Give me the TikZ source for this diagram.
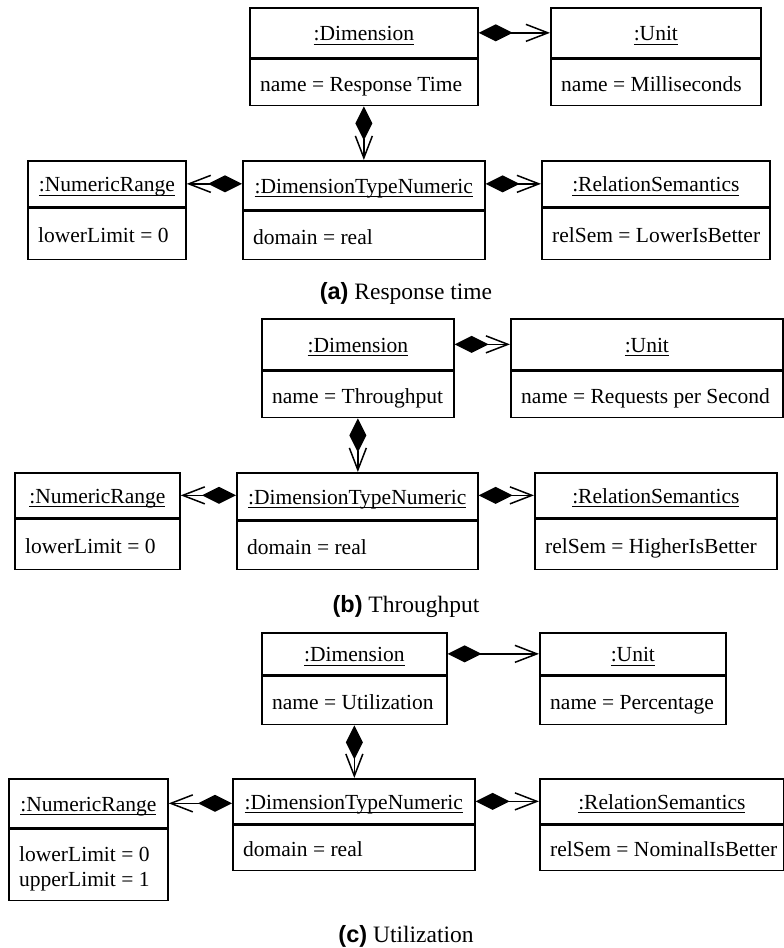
\documentclass[tikz,border=0pt]{standalone}
\usepackage{fontspec}
\setmainfont{Liberation Serif}
\newfontfamily\capsans{Liberation Sans}
\usetikzlibrary{arrows.meta}

\newcommand\objfont{\fontsize{21.5}{25}\selectfont}
\newcommand\capfont{\fontsize{23.5}{27}\selectfont}
% underlined object name: rule 3pt below the baseline
\newsavebox\ulbox
\newcommand\objname[1]{\sbox\ulbox{#1}\rlap{\vrule height -3pt depth 3.9pt width \wd\ulbox}\usebox\ulbox}

\tikzset{
  objhead/.style={draw, line width=1.7pt, inner sep=0pt, text height=19pt, text depth=3pt, font=\objfont},
  objbody/.style={draw, line width=1.7pt, inner sep=0pt},
  objtext/.style={inner sep=0pt, align=left, font=\objfont},
  comp/.style={line width=1.5pt, {Diamond[length=34pt,width=17pt]}-{Straight Barb[length=22pt,width=17pt]}},
  figcaption/.style={inner sep=0pt, anchor=base, font=\capfont}
}

% UML object: name, x, y, width, header height, body height, header, body,
% drop of the last text baseline below the body's centre
\newcommand\umlobject[9]{%
  \node[objhead, minimum width=#4pt, minimum height=#5pt, anchor=north west] (#1H) at (#2,#3) {\objname{#7}};
  \node[objbody, minimum width=#4pt, minimum height=#6pt, anchor=north] (#1B) at (#1H.south) {};
  \node[objtext, anchor=base west] (#1T) at ([xshift=11pt,yshift=-#9pt]#1B.west) {#8};
}

\begin{document}
\begin{tikzpicture}[x=1pt,y=-1pt]
\useasboundingbox (0,0) rectangle (784,948);

% (a) Response time
\umlobject{a-dim}{249}{7}{228}{50}{46}{:Dimension}{name = Response Time}{8.5}
\umlobject{a-unit}{550}{7}{210}{50}{46}{:Unit}{name = Milliseconds}{8.5}
\umlobject{a-nr}{27}{160}{158}{46}{51}{:NumericRange}{lowerLimit = 0}{8.5}
\umlobject{a-dtn}{242}{160}{242}{49}{48}{:DimensionTypeNumeric}{domain = real}{8.5}
\umlobject{a-rs}{541}{160}{228}{46}{51}{:RelationSemantics}{relSem = LowerIsBetter}{8.5}
\draw[comp] (a-dimH.east) -- (a-unitH.west);
\draw[comp] (a-dimB.south) -- (a-dimB.south |- a-dtnH.north);
\draw[comp] (a-nrH.east -| a-dtnH.west) -- (a-nrH.east);
\draw[comp] (a-rsH.west -| a-dtnH.east) -- (a-rsH.west);
\node[figcaption] (capA) at (406,299) {{\capsans\bfseries (a)} Response time};

% (b) Throughput
\umlobject{b-dim}{261}{318}{192}{51}{46}{:Dimension}{name = Throughput}{8.5}
\umlobject{b-unit}{510}{318}{272}{51}{46}{:Unit}{name = Requests per Second}{8.5}
\umlobject{b-nr}{14}{472}{165}{45}{50}{:NumericRange}{lowerLimit = 0}{8.5}
\umlobject{b-dtn}{236}{472}{241}{47}{48}{:DimensionTypeNumeric}{domain = real}{8.5}
\umlobject{b-rs}{534}{472}{242}{45}{50}{:RelationSemantics}{relSem = HigherIsBetter}{8.5}
\draw[comp] (b-dimH.east) -- (b-unitH.west);
\draw[comp] (b-dimB.south) -- (b-dimB.south |- b-dtnH.north);
\draw[comp] (b-nrH.east -| b-dtnH.west) -- (b-nrH.east);
\draw[comp] (b-rsH.west -| b-dtnH.east) -- (b-rsH.west);
\node[figcaption] (capB) at (406,612) {{\capsans\bfseries (b)} Throughput};

% (c) Utilization
\umlobject{c-dim}{261}{632}{185}{42}{48}{:Dimension}{name = Utilization}{8.5}
\umlobject{c-unit}{539}{632}{186}{42}{48}{:Unit}{name = Percentage}{8.5}
\umlobject{c-nr}{8}{778}{159}{49}{71}{:NumericRange}{lowerLimit = 0\\upperLimit = 1}{21}
\umlobject{c-dtn}{232}{778}{242}{45}{45}{:DimensionTypeNumeric}{domain = real}{8.5}
\umlobject{c-rs}{539}{778}{244}{45}{45}{:RelationSemantics}{relSem = NominalIsBetter}{8.5}
\draw[comp] (c-dimH.east) -- (c-unitH.west);
\draw[comp] (c-dimB.south) -- (c-dimB.south |- c-dtnH.north);
\draw[comp] (c-nrH.east -| c-dtnH.west) -- (c-nrH.east);
\draw[comp] (c-rsH.west -| c-dtnH.east) -- (c-rsH.west);
\node[figcaption] (capC) at (406,942) {{\capsans\bfseries (c)} Utilization};
\end{tikzpicture}
\end{document}
